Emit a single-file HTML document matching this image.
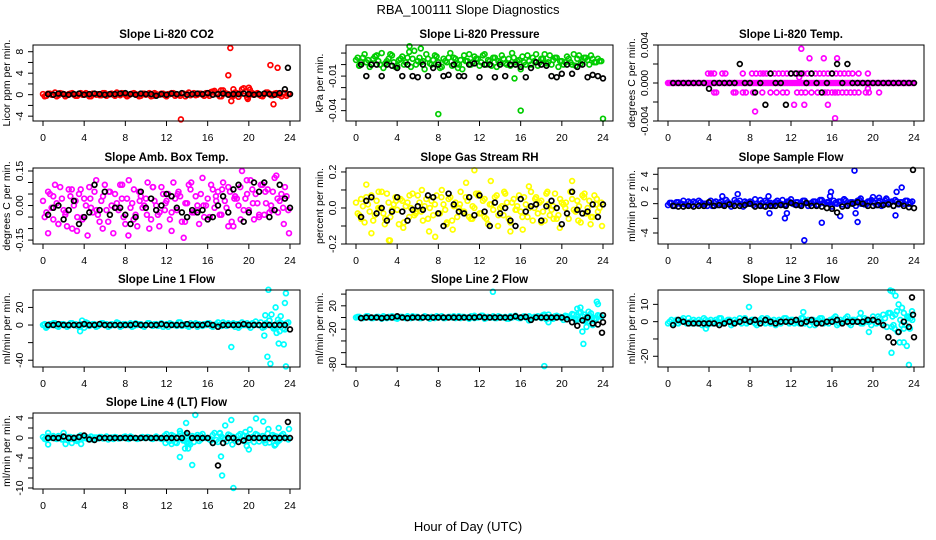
<!DOCTYPE html>
<html><head><meta charset="utf-8"><title>RBA_100111 Slope Diagnostics</title>
<style>html,body{margin:0;padding:0;background:#fff}svg{display:block;font-family:"Liberation Sans",sans-serif}</style>
</head><body>
<svg id="chart" width="936" height="540" viewBox="0 0 936 540" xmlns="http://www.w3.org/2000/svg">
<rect width="936" height="540" fill="#fff"/>
<text x="468" y="14" text-anchor="middle" font-size="13">RBA_100111  Slope Diagnostics</text>
<text x="468" y="531" text-anchor="middle" font-size="13">Hour of Day (UTC)</text>
<g id="panels"></g>
</svg>
<script>
// ---- data (values per panel; units: p2,p3 in 0.001, p4,p5 in 0.01) ----
const hourTicks=[0,4,8,12,16,20,24];
const co2Main=[0.1,-0.2,0.2,0,-0.3,0.3,0.1,-0.1,0.2,0,-0.2,0.3,0.1,0,-0.3,0.2,0.1,-0.1,0.3,0,0.2,-0.2,0.1,0.3,0,-0.1,0.2,0.1,-0.3,0.2,0,0.3,-0.2,0.1,0,0.2,-0.3,0.1,0.3,0,-0.2,0.2,0.1,-0.1,0.3,0,0.2,-0.2,0.1,0.5,0.7,0.2,-0.3,0.3,0.1,0,0.4,-0.4,1.0,0.6,-0.2,0.3,0.1,0,-0.3,0.4,0.2,-0.1,0.3,0,0.2,-0.2];
const co2Main2=[-0.3,0.2,0,0.4,-0.1,0.2,-0.3,0.1,0.3,-0.2,0.1,0,0.3,-0.3,0.2,0,-0.1,0.3,-0.2,0.1,0,0.4,-0.1,0.2,-0.3,0.1,0.3,0,-0.2,0.2,0.1,-0.3,0.3,0,0.2,-0.1,0.1,0.3,-0.2,0,0.2,-0.3,0.4,0.1,-0.1,0.2,0,0.3,-0.2,0.6,0.1,-0.3,0.8,0.2,0,-0.2,0.3,0.1,1.2,-0.5,0.2,0,0.3,-0.2,0.1,0.4,-0.1,0.2,0,-0.3,0.3,0.1];
const co2Black=[0.1,0,0.2,0.1,0,0.1,0.2,0,0.1,0.2,0.1,0,0.1,0.1,0.2,0.3,0.1,0,0.2,0.1,0.1,-0.2,0.1,0,0.2,0.1,0.3,0,0.1,0.2,0.1,0.3,0,0.1,0.2,0,0.1,0.1,0.2,0.1,0,0.1,0.2,0.1,0,0.3,1.0,0.1];
const co2ExT=[13.4,17.3,18,18.2,18.3,18.5,19.9,20,20.1,22.1,22.4,22.8];
const co2ExV=[-4.6,0.8,3.6,8.7,-1.2,1.0,-0.8,1.3,0.9,5.5,-1.8,5.0];
const co2BExT=[23.8];const co2BExV=[5.0];
const presMain=[4,-1,6,2,-2,5,8,0,-3,3,9,2,-1,5,0,6,-2,12,3,2,-4,5,0,8,2,-2,3,6,-1,5,0,-4,3,9,2,5,-1,8,0,3,6,-2,2,5,0,-1,6,3,-4,2,8,0,3,-1,5,9,2,0,6,-2,3,2,5,0,-1,8,3,6,0,5,2,3];
const presMain2=[6,2,9,4,0,7,3,10,1,5,8,-2,4,7,2,11,5,0,6,3,9,1,4,7,-3,5,2,10,6,1,4,8,3,0,7,5,2,9,4,-1,6,3,8,1,5,10,2,4,7,0,3,6,9,2,5,1,8,4,6,3,0,7,2,9,5,1,6,4,8,2,5,3];
const presBlack=[0,-10,0,0,-10,0,-1,-3,-10,0,-10,-11,0,-10,-3,0,-10,-9,0,-10,-10,0,1,-11,0,0,-11,0,-10,0,0,-2,-11,-3,2,0,-1,-10,-11,-8,0,-8,-2,0,-11,-9,-10,-12];
const presExT=[0.3,8,16,24,6.3,5.2,15.4,9.9];
const presExV=[-1,-43,-40,-47,14,16,-12,-3];
const presBExT=[];const presBExV=[];
const tempMain=[0,0,0,0,0,0,0,0,0,0,0,0,0,0,0,0,0,0,0,0,0,0,0,0,0,0,0,0,0,0,0,0,0,0,0,0,0,0,0,0,0,0,0,0,0,0,0,0,0,0,0,0,0,0,0,0,0,0,0,0,0,0,0,0,0,0,0,0,0,0,0,0];
const tempMain2=[0,0,0,0,0,0,0,0,0,0,0,0,0,0,0,0,0,0,0,0,0,0,0,0,0,0,0,0,0,0,0,0,0,0,0,0,0,0,0,0,0,0,0,0,0,0,0,0,0,0,0,0,0,0,0,0,0,0,0,0,0,0,0,0,0,0,0,0,0,0,0,0];
const tempBlack=[0,0,0,0,0,0,0,-0.6,0,0,0,0,0,2,0,0,-1,0,-2.3,1,0,0,-2.3,1,1,1,0,1,0,-1,0,1,2,0,2,0,0,0,0,0,0,0,0,0,0,0,0,0];
const tempExT=[3.9,4.2,4.5,5.3,5.6,7.3,8.2,8.6,9,9.3,9.6,10,10.4,10.8,11.2,11.6,12,12.4,12.8,13.2,13.6,14,14.4,14.8,15.2,15.6,16,16.4,16.8,17.2,17.6,18,18.6,19.5,4.5,4.7,6.4,6.6,7.3,7.6,8.3,9.2,10,10.6,11.2,11.6,12.6,13,13.4,14,14.6,15.3,15.6,16,16.3,16.6,17,17.4,17.8,18.2,18.6,19.3,19.6,20.6,13,13.8,15.2,16.5,12.8,19.5,8.5,12.3,13.3,15.6,16.3];
const tempExV=[1,1,1,1,1,1,1,1,1,1,1,1,1,1,1,1,1,1,1,1,1,1,1,1,1,1,1,1,1,1,1,1,1,1,-1,-1,-1,-1,-1,-1,-1,-1,-1,-1,-1,-1,-1,-1,-1,-1,-1,-1,-1,-1,-1,-1,-1,-1,-1,-1,-1,-1,-1,-1,3.6,2.6,2.6,2.6,0.6,-0.6,-3,-2.3,-2.3,-2.3,-3.7];
const tempBExT=[];const tempBExV=[];
const boxMain=[2,-3,5,-6,1,8,-2,-9,4,0,-5,7,3,-13,-1,6,-4,2,9,-7,0,5,-2,3,-8,11,1,-4,6,-1,3,-10,8,0,-3,5,2,-6,10,-2,4,-14,1,7,-3,0,5,-5,3,9,-1,6,-4,2,8,-7,4,0,15,3,-2,7,5,-5,9,1,-3,6,13,2,-1,4];
const boxMain2=[-5,6,-1,9,-8,3,-4,7,-10,2,5,-6,0,8,-3,11,-7,4,-2,6,-12,1,9,-5,3,-1,7,-9,4,0,10,-6,2,-4,8,-2,5,-11,3,6,-7,1,9,-3,4,-8,12,0,-5,7,2,-4,10,-1,6,-9,3,8,-2,5,11,-6,1,9,-4,7,0,12,-3,5,8,-2];
const boxBlack=[-4,-1,0,-6,-2,2,-8,-5,-3,9,-2,6,-4,-1,-1,-4,-8,-5,6,-1,3,-2,0,5,4,-1,-3,-5,-2,-3,-2,-6,-5,0,4,-3,7,9,-7,-3,10,6,10,-5,-2,9,3,-1];
const boxExT=[0.5,1,1.5,2.2,2.8,3.3,3.9,4.6,5.2,5.8,6.4,7.1,7.7,8.3,8.8,9.4,10.1,10.7,11.3,11.9,12.5,13.1,13.8,14.4,15,15.6,16.2,16.8,17.4,18,18.6,19.2,19.8,20.4,21,21.6,22.2,22.8,23.4,23.9];
const boxExV=[-12,4,-8,-3,7,-11,-5,3,-2,-10,6,-1,9,-13,-6,2,-4,8,-9,1,-3,5,-7,10,-2,0,-5,4,7,-9,3,-6,11,1,-4,6,-2,3,-8,-12];
const boxBExT=[];const boxBExV=[];
const rhMain=[3,-4,1,6,-2,-7,4,0,-3,8,-5,2,-1,5,-8,3,0,-4,7,-2,1,-6,4,2,-3,10,-1,5,-7,3,0,-2,6,-5,1,8,-3,4,-6,2,-1,7,0,-4,3,-8,5,1,-2,6,-5,9,0,-3,4,-7,2,-1,8,-4,3,0,-6,5,-2,1,7,-3,4,-5,2,0];
const rhMain2=[-3,5,-8,2,7,-4,0,9,-6,3,-1,6,-9,4,1,-5,8,-2,3,-7,5,0,-4,7,-3,2,-8,6,1,-5,9,-2,4,-6,0,7,-3,5,-9,2,6,-4,1,8,-6,3,-1,7,-5,2,0,-7,6,3,-2,8,-4,1,-6,5,2,-3,9,-1,4,-8,6,0,-5,7,-2,3];
const rhBlack=[-5,4,6,-3,0,-7,-2,6,-2,-7,-1,1,-1,7,6,-3,-10,8,2,-2,-3,6,-4,7,-2,-10,3,-3,0,-7,-10,5,-2,1,2,-7,1,4,0,-9,-3,9,-1,-3,-2,2,-5,2];
const rhExT=[0.5,1,1.5,2.2,2.8,3.3,3.9,4.6,5.2,5.8,6.4,7.1,7.7,8.3,8.8,9.4,10.1,10.7,11.3,11.9,12.5,13.1,13.8,14.4,15,15.6,16.2,16.8,17.4,18,18.6,19.2,19.8,20.4,21,21.6,22.2,22.8,23.4,23.9,11.5,3.2];
const rhExV=[-6,13,-14,9,-9,-18,4,-11,7,-3,10,-13,-16,6,-9,-12,2,14,-6,8,-5,15,-10,9,-13,-1,-12,12,5,-8,9,-6,-11,3,15,-7,8,-9,5,-10,21,-18];
const rhBExT=[];const rhBExV=[];
const flowMain=[-0.2,0.1,-0.3,0.2,0,-0.1,0.3,-0.2,0.1,0.4,-0.1,0,0.2,-0.3,0.3,0.1,-0.2,0.5,0,-0.1,0.2,0.4,-0.4,0.1,0.3,-0.2,0,0.5,-0.3,0.2,0.1,-0.1,0.4,0,-0.2,0.3,0.6,-0.1,0.2,0,0.4,-0.3,0.1,0.3,-0.2,0.5,0,0.2,-0.4,0.1,0.3,-0.1,0.4,0,0.2,-0.3,0.5,0.1,-0.1,0.3,0.2,-0.2,0.4,0,0.6,0.1,-0.3,0.3,0.2,0,0.4,0.1];
const flowMain2=[0.1,-0.3,0.2,0,0.4,-0.2,0.1,0.3,-0.1,0.2,0,-0.3,0.4,0.1,-0.2,0.3,0,0.2,-0.4,0.5,0.1,-0.1,0.3,0,0.2,0.6,-0.2,0.1,0.4,0,-0.3,0.2,0.1,0.5,-0.1,0.3,0,0.2,-0.2,0.4,0.1,0,0.3,-0.2,0.5,0.1,0.2,-0.1,0.4,0,0.3,0.6,-0.2,0.2,0.1,0.4,0,-0.1,0.3,0.5,0.1,0.2,-0.3,0.4,0,0.3,0.5,-0.1,0.2,0.4,0,0.3];
const flowBlack=[-0.3,-0.4,-0.4,-0.3,-0.4,-0.3,-0.3,0.2,-0.3,-0.2,-0.3,-0.1,-0.3,-0.3,-0.2,0,-0.4,-0.3,-0.4,-0.3,-0.3,-0.2,-0.3,0.1,-0.2,-0.3,0.1,-0.3,-0.3,-0.4,-0.6,-0.7,-1.2,-0.4,-0.3,0,0.2,0,-0.3,-0.3,-0.2,-0.2,-0.1,-0.3,0,-0.3,-0.5,-0.6];
const flowExT=[5.3,6.8,9.8,9.9,11.4,11.6,13.3,15,15.8,15.9,16.8,17.2,18.2,18.3,18.5,18.8,20,20.6,21.3,22.2,22.3,22.8];
const flowExV=[1.0,1.3,1.0,-1.3,-2.0,-1.3,-5.0,-2.6,1.0,1.6,-1.7,0.6,4.5,-1.3,-2.5,0.7,0.9,0.8,0.7,-1.6,1.6,2.2];
const flowBExT=[23.9];const flowBExV=[4.6];
const l1Main=[0,-2,1,2,-1,0,1,-2,2,0,-1,1,-3,2,0,1,-1,2,0,-2,1,0,2,-1,1,0,-2,2,1,-1,0,2,-1,1,0,-2,1,2,0,-1,3,0,-1,2,1,-2,0,1,2,-1,0,3,-1,1,2,0,-2,1,3,0,-1,2,4,0,-3,2,5,-2,1,3,-4,2];
const l1Main2=[1,-1,0,2,-2,1,0,-1,2,1,-2,0,3,-1,1,-2,0,2,1,-1,0,3,-2,1,0,2,-1,0,1,-2,2,0,1,-1,2,0,-2,1,0,3,-1,1,-2,0,2,1,-1,0,2,-2,1,0,3,-1,0,2,1,-1,0,2,-3,1,0,3,-2,1,0,-4,6,2,-5,3];
const l1Black=[0,0,1,0,0,0,0,1,0,0,1,0,0,0,0,0,0,1,0,0,0,0,1,0,0,0,0,1,0,0,0,1,0,-2,0,0,0,0,1,0,0,0,0,0,0,0,0,-5];
const l1ExT=[8,21.9,23.6,23.5,22.6,21.6,22.2,23.1,21.5,18.3,21.8,22.1,21.9,23.6,22.9,23.4,22.7,23,22.4,22.0,3.6,3.8,0.3,19];
const l1ExV=[44,40,36,25,20,11,12,10,-12,-25,-36,-44,-50,-47,-21,-22,-9,-7,-4,5,-7,5,-3,-3];
const l1BExT=[];const l1BExV=[];
const l2Main=[0,1,-1,2,0,-1,1,0,2,-1,0,1,-2,1,0,2,-1,0,1,-1,2,0,1,-1,0,2,-1,1,0,-1,2,1,0,-2,1,0,1,3,-1,0,2,-1,1,0,-2,2,1,0,-1,2,0,-3,1,2,-1,3,0,-2,2,1,-1,3,0,6,-4,8,2,-5,4,0,-2,3];
const l2Main2=[1,-1,0,2,-1,0,1,-2,0,1,2,-1,0,1,-1,0,2,1,-1,0,1,-2,0,2,1,-1,0,1,2,0,-1,1,0,2,-1,0,3,-2,1,0,-1,2,0,1,-2,0,3,-1,1,0,2,-1,0,1,4,-3,0,-2,3,1,-4,2,0,5,-3,9,-6,3,7,-2,4,1];
const l2Black=[-1,0,0,0,-1,0,0,2,0,-1,0,0,0,0,0,0,0,0,0,0,0,0,0,1,0,0,0,0,0,0,2,0,1,-4,0,0,0,0,0,0,-3,-8,-14,-5,0,-10,-12,4];
const l2ExT=[13.3,18.3,21.5,21.8,22,22.1,23.4,23.5,22.4,18.7,16.8,22.2,22.6,23,18.3,18.7,21.7,22.5,11.5];
const l2ExV=[44,-83,15,17,-24,-45,27,23,-16,-8,-5,5,10,-13,5,5,-3,-7,3];
const l2BExT=[23.9,24];const l2BExV=[-26,-8];
const l3Main=[-1,1,0,-1,1,0,2,-1,0,1,-2,1,0,-1,1,2,-1,0,1,-1,0,2,1,-1,0,1,-2,1,0,2,-1,1,0,-1,2,0,1,-1,0,2,-1,1,0,-2,1,2,0,-1,1,3,-1,0,2,-1,1,0,2,-1,1,0,3,-1,2,4,-3,5,-2,6,1,-4,3,2];
const l3Main2=[0,-1,1,0,2,-1,0,1,-1,0,2,-2,1,0,-1,2,0,1,-2,1,0,-1,2,0,1,-1,0,2,-1,1,0,-2,1,0,2,-1,1,0,-1,2,0,-2,1,0,2,-1,0,1,2,-2,1,0,3,-2,1,0,-1,2,0,-2,1,3,-1,2,5,-3,4,-6,8,-2,3,1];
const l3Black=[-2,1,0,-1,-1,-1,-1,-1,-1,-2,-1,0,-1,0,1,0,1,-1,1,0,-1,0,0,0,1,-1,0,1,-1,-1,0,0,1,-1,0,0,0,0,1,1,0,-2,-9,-12,-6,0,-3,-9];
const l3ExT=[7.9,13.2,19.6,18.8,21.7,21.9,22.2,22.5,21.8,22.6,23,23.3,23.5,23,23.8,22.1,22.4,23.4,21.9,22.8,23.6,3.7];
const l3ExV=[8.5,5.5,-6,5,18,17.5,15,10,-18,-12,-12,-14,-25,5,6,-4,-6,2,3,-2,-4,-4];
const l3BExT=[23.8,23.9];const l3BExV=[14,4];
const l4Main=[0.2,-0.3,0.1,0.4,-0.2,0,0.3,-0.4,0.2,0.1,-0.3,0.5,0,-0.2,0.3,0.1,-0.1,0.2,0,-0.3,0.1,0.2,-0.1,0,0.3,-0.2,0.1,0,-0.1,0.2,0,0.1,-0.2,0.3,0,-0.1,0.8,-0.6,0.4,-1,0.9,-0.5,0.3,0,-0.8,0.6,-0.3,0.1,0,-0.5,1,-0.8,0.3,-0.2,0.7,0,-0.6,0.5,-0.3,1.2,-0.5,0.2,0.8,-0.7,0.4,0,-0.9,0.6,0.3,-0.4,0.8,0.1];
const l4Main2=[-0.2,0.3,0,-0.1,0.4,-0.3,0.1,0.2,-0.2,0,0.3,-0.1,0.2,0,-0.3,0.1,0.2,-0.1,0.3,0,-0.2,0.1,0,0.2,-0.1,0.3,0,-0.2,0.1,0,0.2,-0.1,0.1,0,-0.2,0.5,-0.4,0.6,-0.9,0.3,-0.2,0.7,-1.1,0.4,0.2,-0.6,0.8,0,-0.3,0.6,-0.4,0.9,0,-0.7,0.5,0.2,-0.3,0.8,-0.6,0.4,0,-0.8,0.6,0.1,-0.5,0.9,-0.2,0.4,-0.7,0.5,0,-0.3];
const l4Black=[0,0,0,0.3,0,0,0.2,0.5,-0.3,-0.4,0,0,0,0,0,0,0,0,0,0,0,0,0,0,0,0,0,1,0,0,0,0,-1,-5.5,-1,0,0,-0.8,-0.5,0,0,0,0,0,0,0,0,0];
const l4ExT=[0.5,0.5,2,2.2,2.8,3.3,3.7,14.8,13.9,13.3,13.3,14.5,14,13.8,14.3,14.1,12.5,11.9,16.5,17.2,17.3,17.4,17.7,18.3,18.5,18.4,19.5,19.8,20,20.1,20.7,21.4,21.9,22.5,22.6,22.9,23.9,21.6,15.3,13.6];
const l4ExV=[1.0,-1.3,1,-1.2,-1,-0.6,-1.2,4.6,3.0,1.4,-3.8,-5.4,-1,-2.1,-1.3,-2.1,-1.2,-1,-1,1,-3.7,-7.5,2.5,3.6,-10,-1.3,0.5,-1.6,-2.3,1.7,3.9,3.3,1.8,-1.5,-1.3,2,1.8,-1,0.5,-0.5];
const l4BExT=[23.8];const l4BExV=[3.2];
// ---- tick labels ----
const co2Ticks=[-4,-2,0,2,4,6,8];const co2Labels=['-4','','0','','4','','8'];
const presTicks=[10,0,-10,-20,-30,-40];const presLabels=['','','-0.01','','','-0.04'];
const tempTicks=[-4,-2,0,2,4];const tempLabels=['-0.004','','0.000','','0.004'];
const boxTicks=[-15,-10,-5,0,5,10,15];const boxLabels=['-0.15','','','0.00','','','0.15'];
const rhTicks=[-20,-10,0,10,20];const rhLabels=['-0.2','','0.0','','0.2'];
const flowTicks=[-4,-2,0,2,4];const flowLabels=['-4','','0','2','4'];
const l1Ticks=[-40,-20,0,20];const l1Labels=['-40','','0','20'];
const l2Ticks=[-80,-60,-40,-20,0,20,40];const l2Labels=['-80','','','-20','','20',''];
const l3Ticks=[-20,-10,0,10];const l3Labels=['-20','','0','10'];
const l4Ticks=[-10,-8,-6,-4,-2,0,2,4];const l4Labels=['-10','','','-4','','0','','4'];

const COLS=[{l:33,r:300},{l:346,r:613},{l:658,r:924}];
const ROWS=[{t:45,b:121},{t:168,b:244},{t:290,b:367},{t:413,b:489}];
const panels=[
 {id:'co2',title:'Slope Li-820 CO2',ylab:'Licor ppm per min.',c:0,r:0,ylim:[-4.9,9.25],color:'#ff0000',main:co2Main,main2:co2Main2,black:co2Black,exT:co2ExT,exV:co2ExV,bT:co2BExT,bV:co2BExV,ticks:co2Ticks,labels:co2Labels},
 {id:'pressure',title:'Slope Li-820 Pressure',ylab:'kPa per min.',c:1,r:0,ylim:[-49,17],color:'#00cd00',main:presMain,main2:presMain2,black:presBlack,exT:presExT,exV:presExV,bT:presBExT,bV:presBExV,ticks:presTicks,labels:presLabels},
 {id:'temp',title:'Slope Li-820 Temp.',ylab:'degrees C per min.',c:2,r:0,ylim:[-4,4],color:'#ff00ff',main:tempMain,main2:tempMain2,black:tempBlack,exT:tempExT,exV:tempExV,bT:tempBExT,bV:tempBExV,ticks:tempTicks,labels:tempLabels},
 {id:'box-temp',title:'Slope Amb. Box Temp.',ylab:'degrees C per min.',c:0,r:1,ylim:[-16.7,16.3],color:'#ff00ff',main:boxMain,main2:boxMain2,black:boxBlack,exT:boxExT,exV:boxExV,bT:boxBExT,bV:boxBExV,ticks:boxTicks,labels:boxLabels},
 {id:'rh',title:'Slope Gas Stream RH',ylab:'percent per min.',c:1,r:1,ylim:[-20,22.2],color:'#ffff00',main:rhMain,main2:rhMain2,black:rhBlack,exT:rhExT,exV:rhExV,bT:rhBExT,bV:rhBExV,ticks:rhTicks,labels:rhLabels},
 {id:'sample-flow',title:'Slope Sample Flow',ylab:'ml/min per min.',c:2,r:1,ylim:[-5.5,4.86],color:'#0000ff',main:flowMain,main2:flowMain2,black:flowBlack,exT:flowExT,exV:flowExV,bT:flowBExT,bV:flowBExV,ticks:flowTicks,labels:flowLabels},
 {id:'line1',title:'Slope Line 1 Flow',ylab:'ml/min per min.',c:0,r:2,ylim:[-47.7,39.8],color:'#00ffff',main:l1Main,main2:l1Main2,black:l1Black,exT:l1ExT,exV:l1ExV,bT:l1BExT,bV:l1BExV,ticks:l1Ticks,labels:l1Labels},
 {id:'line2',title:'Slope Line 2 Flow',ylab:'ml/min per min.',c:1,r:2,ylim:[-84.5,47],color:'#00ffff',main:l2Main,main2:l2Main2,black:l2Black,exT:l2ExT,exV:l2ExV,bT:l2BExT,bV:l2BExV,ticks:l2Ticks,labels:l2Labels},
 {id:'line3',title:'Slope Line 3 Flow',ylab:'ml/min per min.',c:2,r:2,ylim:[-26.2,18.3],color:'#00ffff',main:l3Main,main2:l3Main2,black:l3Black,exT:l3ExT,exV:l3ExV,bT:l3BExT,bV:l3BExV,ticks:l3Ticks,labels:l3Labels},
 {id:'line4',title:'Slope Line 4 (LT) Flow',ylab:'ml/min per min.',c:0,r:3,ylim:[-10.2,5],color:'#00ffff',main:l4Main,main2:l4Main2,black:l4Black,exT:l4ExT,exV:l4ExV,bT:l4BExT,bV:l4BExV,ticks:l4Ticks,labels:l4Labels}
];
const NS='http://www.w3.org/2000/svg';
function mk(tag,attrs,parent){const e=document.createElementNS(NS,tag);for(const k in attrs)e.setAttribute(k,attrs[k]);parent.appendChild(e);return e;}
const root=document.getElementById('panels');
panels.forEach(p=>{
 const C=COLS[p.c],R=ROWS[p.r];
 const xs=h=>C.l+10+h*(C.r-C.l-20)/24;
 const ys=v=>R.t+(p.ylim[1]-v)/(p.ylim[1]-p.ylim[0])*(R.b-R.t);
 const g=mk('g',{},root);
 
 
 const tt=mk('text',{x:(C.l+C.r)/2,y:R.t-7,'text-anchor':'middle','font-size':'11.5','font-weight':'bold'},g);
 tt.textContent=p.title;
 
 
 const yl=mk('text',{x:C.l-26,y:(R.t+R.b)/2,'text-anchor':'middle','dominant-baseline':'central','font-size':'10.5',transform:`rotate(-90 ${C.l-26} ${(R.t+R.b)/2})`},g);
 yl.textContent=p.ylab;
 
 
 const pts=mk('g',{fill:'none','stroke-width':'1.7'},g);
 
 
 const dot=(h,v,col,nm)=>{const y=ys(v);if(y<R.t-1||y>R.b+1)return;const c=mk('circle',{cx:xs(h).toFixed(1),cy:y.toFixed(1),r:'2.4',stroke:col},pts);
  
  };
 p.main.forEach((v,i)=>dot(i/3,v,p.color,'point'));
 p.main2.forEach((v,i)=>dot(i/3+1/6,v,p.color,'point'));
 p.exT.forEach((h,i)=>dot(h,p.exV[i],p.color,'point'));
 p.black.forEach((v,i)=>dot(0.5*(i+1),v,'#000','point-black'));
 p.bT.forEach((h,i)=>dot(h,p.bV[i],'#000','point-black'));
 const bx=mk('rect',{x:C.l,y:R.t,width:C.r-C.l,height:R.b-R.t,fill:'none',stroke:'#000','stroke-width':'1'},g);
 
 
 const xa=mk('g',{},g);
 
 
 hourTicks.forEach(h=>{const x=xs(h);mk('line',{x1:x,x2:x,y1:R.b,y2:R.b+5,stroke:'#000'},xa);
  const t=mk('text',{x:x,y:R.b+20,'text-anchor':'middle','font-size':'10.5'},xa);t.textContent=h;
  
  });
 const ya=mk('g',{},g);
 
 
 p.ticks.forEach((v,i)=>{const y=ys(v);mk('line',{x1:C.l-5,x2:C.l,y1:y,y2:y,stroke:'#000'},ya);
  if(p.labels[i]){const t=mk('text',{x:C.l-13,y:y,'text-anchor':'middle','dominant-baseline':'central','font-size':'10.5',transform:`rotate(-90 ${C.l-13} ${y})`},ya);t.textContent=p.labels[i];
  
  }});
});
</script>
</body></html>
